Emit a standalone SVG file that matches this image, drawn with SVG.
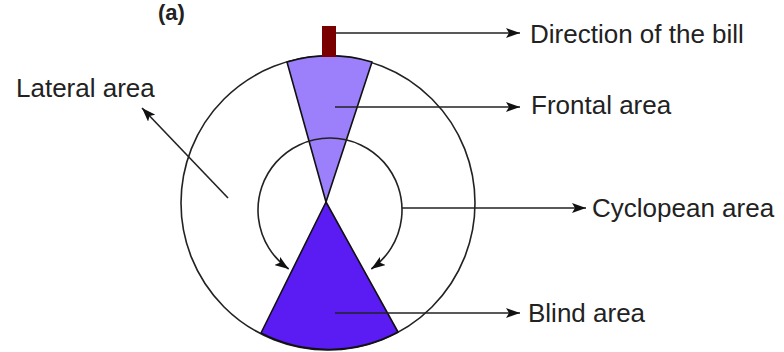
<svg xmlns="http://www.w3.org/2000/svg" width="784" height="352" viewBox="0 0 784 352">
<defs>
<style>
.lbl{font-family:"Liberation Sans",Arial,sans-serif;font-size:26px;fill:#222;}
.ttl{font-family:"Liberation Sans",Arial,sans-serif;font-size:22px;font-weight:bold;fill:#222;}
.edge{stroke:#222;stroke-width:1.6;fill:none;}
.sector{stroke:#111;stroke-width:1.6;stroke-linejoin:round;}
</style>
<marker id="arr" markerUnits="userSpaceOnUse" markerWidth="16" markerHeight="10" refX="14" refY="5" orient="auto-start-reverse">
<path d="M0,0 L14,5 L0,10 L3,5 Z" fill="#111"/>
</marker>
</defs>
<rect width="784" height="352" fill="#fff"/>
<g id="title"><text class="ttl" x="158" y="20">(a)</text></g>
<g id="field">
<circle cx="328" cy="203" r="147" fill="#fff" stroke="#222" stroke-width="1.6"/>
</g>
<g id="frontal">
<path class="sector" d="M326,202 L287,62 A147,147 0 0 1 372,62 Z" fill="#9c7ffb"/>
</g>
<g id="blind">
<path class="sector" d="M326,202 L261,333 A147,147 0 0 0 398,332 Z" fill="#5a1cf2"/>
</g>
<g id="bill">
<rect x="322" y="26" width="14" height="31" fill="#7a0000"/>
</g>
<g id="connectors">
<path class="edge" d="M288.7,269 A72,72 0 1 1 371.3,269" marker-start="url(#arr)" marker-end="url(#arr)"/>
<line class="edge" x1="336" y1="33" x2="520" y2="33" marker-end="url(#arr)"/>
<line class="edge" x1="335" y1="107" x2="520" y2="107" marker-end="url(#arr)"/>
<line class="edge" x1="402" y1="208" x2="586" y2="208" marker-end="url(#arr)"/>
<line class="edge" x1="335" y1="313" x2="520" y2="313" marker-end="url(#arr)"/>
<line class="edge" x1="228" y1="198" x2="142" y2="108" marker-end="url(#arr)"/>
</g>
<g id="labels">
<text class="lbl" x="530" y="43">Direction of the bill</text>
<text class="lbl" x="531" y="114">Frontal area</text>
<text class="lbl" x="592" y="217">Cyclopean area</text>
<text class="lbl" x="528" y="322">Blind area</text>
<text class="lbl" x="16" y="97">Lateral area</text>
</g>
</svg>
